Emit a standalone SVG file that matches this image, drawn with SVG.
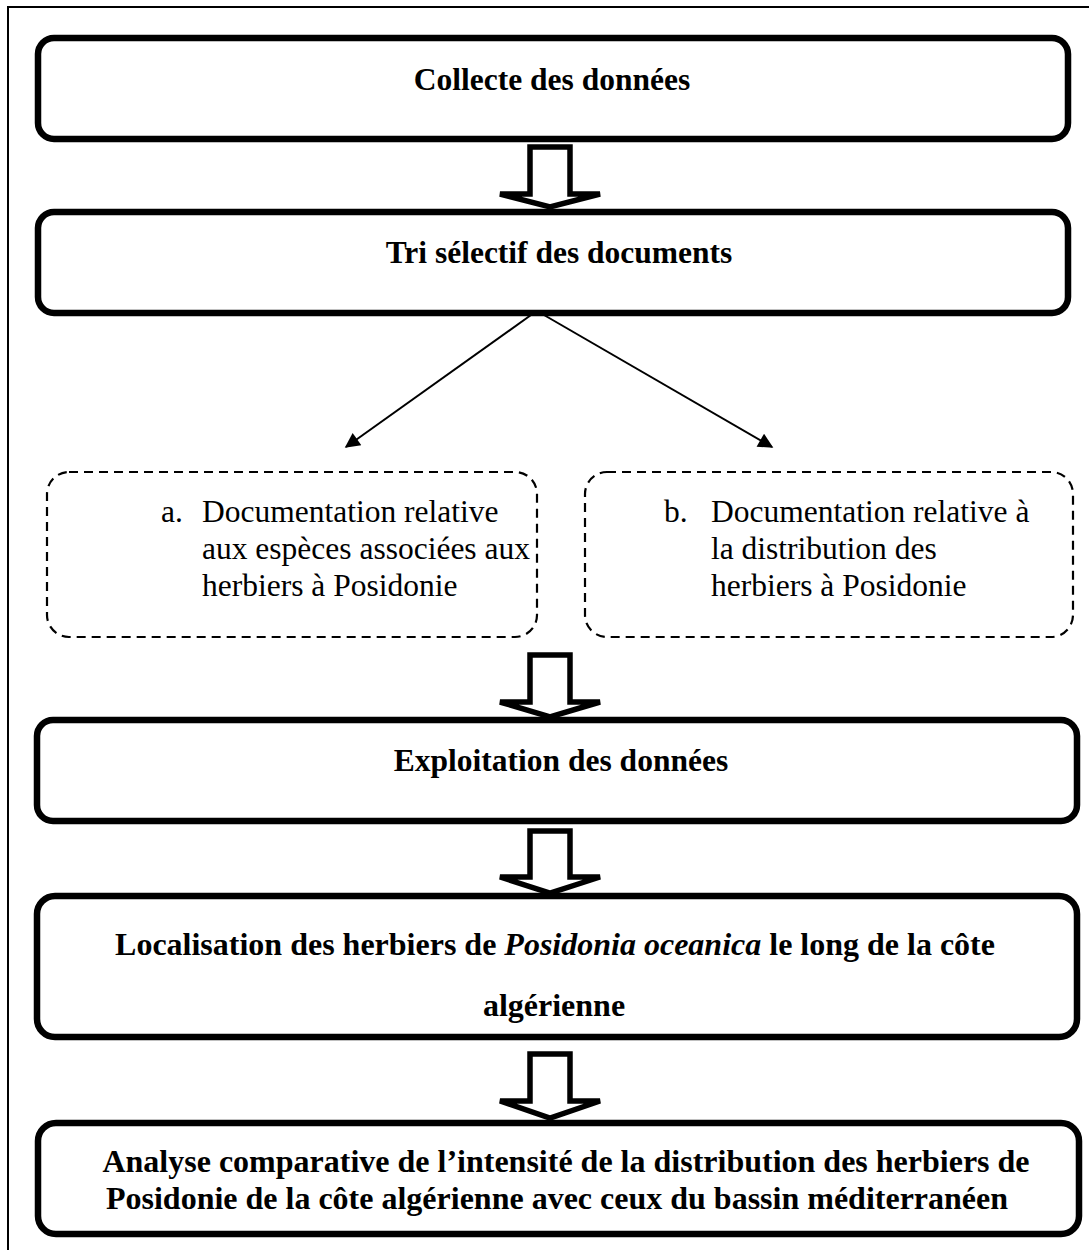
<svg xmlns="http://www.w3.org/2000/svg" width="1089" height="1250" viewBox="0 0 1089 1250">
<defs>
<style>
.box{fill:#fff;stroke:#000;stroke-width:6.5}
.dbox{fill:#fff;stroke:#000;stroke-width:2.2;stroke-dasharray:9 6}
.blk{fill:#fff;stroke:#000;stroke-width:5.5;stroke-linejoin:miter}
.b{font-family:"Liberation Serif","Times New Roman",serif;font-weight:bold;font-size:31.5px;fill:#000}
.b2{font-family:"Liberation Serif","Times New Roman",serif;font-weight:bold;font-size:32px;fill:#000}
.r{font-family:"Liberation Serif","Times New Roman",serif;font-size:31.5px;fill:#000}
.ln{stroke:#000;stroke-width:2;fill:none}
</style>
<marker id="ah" viewBox="0 0 10 10" refX="9" refY="5" markerWidth="17" markerHeight="15" markerUnits="userSpaceOnUse" orient="auto"><path d="M0,0 L10,5 L0,10 z" fill="#000"/></marker>
</defs>
<rect width="1089" height="1250" fill="#fff"/>
<path d="M8,1250 V7 H1089" fill="none" stroke="#000" stroke-width="2"/>

<g id="n1"><rect class="box" x="38" y="38" width="1030" height="101" rx="16"/>
<text class="b" x="552" y="90" text-anchor="middle">Collecte des données</text></g>

<g id="n2"><rect class="box" x="38" y="212" width="1030" height="101" rx="16"/>
<text class="b" x="559" y="263" text-anchor="middle">Tri sélectif des documents</text></g>

<g id="n3"><rect class="dbox" x="47" y="472" width="490" height="165" rx="22"/>
<text class="r" x="161" y="522">a.</text>
<text class="r" x="202" y="522">Documentation relative</text>
<text class="r" x="202" y="559">aux espèces associées aux</text>
<text class="r" x="202" y="596">herbiers à Posidonie</text></g>

<g id="n4"><rect class="dbox" x="585" y="472" width="488" height="165" rx="22"/>
<text class="r" x="664" y="522">b.</text>
<text class="r" x="711" y="522">Documentation relative à</text>
<text class="r" x="711" y="559">la distribution des</text>
<text class="r" x="711" y="596">herbiers à Posidonie</text></g>

<g id="n5"><rect class="box" x="37" y="720" width="1040" height="101" rx="16"/>
<text class="b" x="561" y="771" text-anchor="middle">Exploitation des données</text></g>

<g id="n6"><rect class="box" x="37" y="896" width="1040" height="141" rx="18"/>
<text class="b2" x="555" y="955" text-anchor="middle">Localisation des herbiers de <tspan font-style="italic">Posidonia oceanica</tspan> le long de la côte</text>
<text class="b2" x="554" y="1016" text-anchor="middle">algérienne</text></g>

<g id="n7"><rect class="box" x="38" y="1123" width="1041" height="111" rx="18"/>
<text class="b2" x="566" y="1172" text-anchor="middle">Analyse comparative de l’intensité de la distribution des herbiers de</text>
<text class="b2" x="557" y="1209" text-anchor="middle">Posidonie de la côte algérienne avec ceux du bassin méditerranéen</text></g>

<g id="connectors">
<path class="blk" d="M530,147 H570 V194 H600 L550,207 L500,194 H530 Z"/>
<path class="blk" d="M530,655 H570 V702 H600 L550,717 L500,702 H530 Z"/>
<path class="blk" d="M530,831 H570 V877 H600 L550,893 L500,877 H530 Z"/>
<path class="blk" d="M530,1054 H570 V1101 H600 L550,1118 L500,1101 H530 Z"/>
<line class="ln" x1="531" y1="315" x2="346" y2="447" marker-end="url(#ah)"/>
<line class="ln" x1="544" y1="315" x2="772" y2="447" marker-end="url(#ah)"/>
</g>
</svg>
